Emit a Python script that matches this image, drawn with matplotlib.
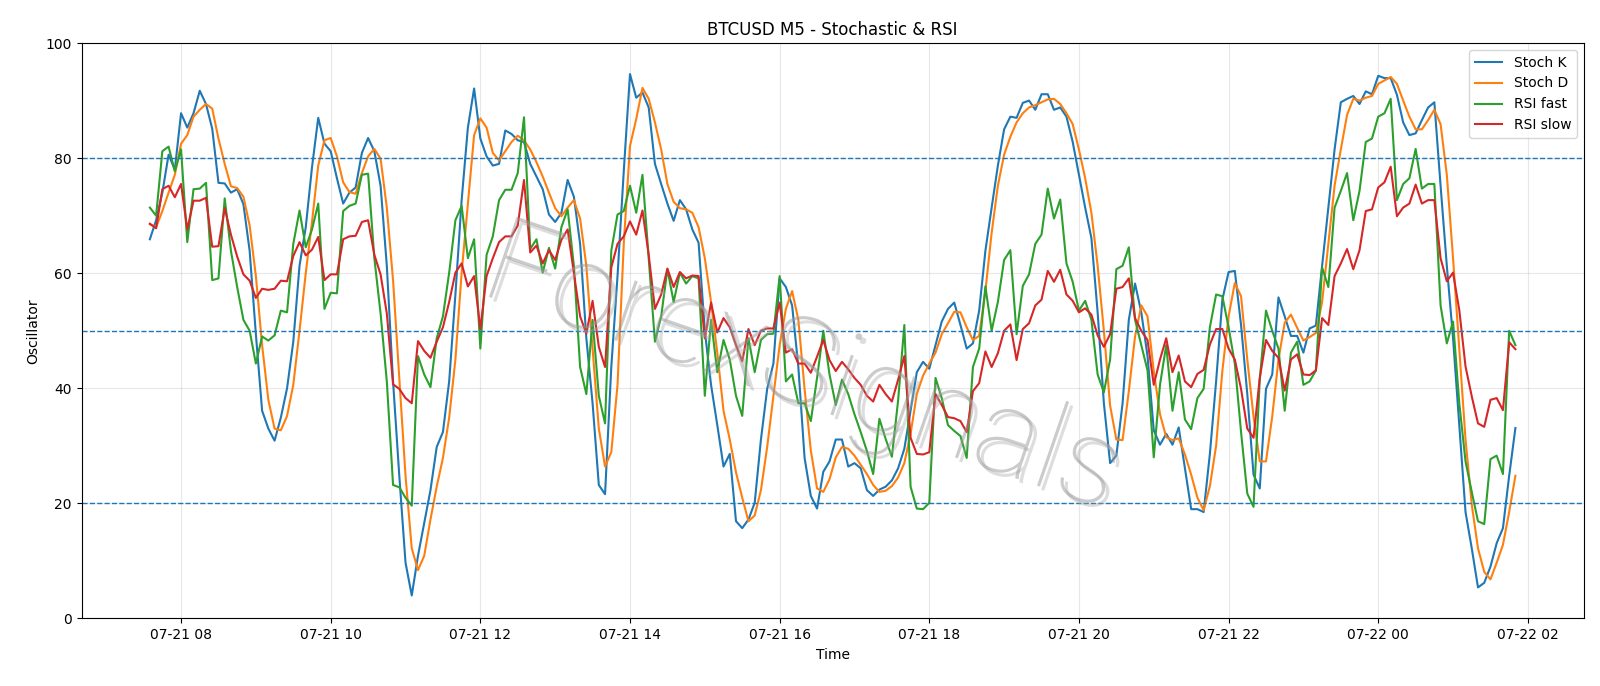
import pandas as pd
import matplotlib
matplotlib.use("Agg")
import matplotlib.pyplot as plt
import matplotlib.dates as mdates
import matplotlib.patheffects as pe

# 5-minute bars, 07-21 07:35 -> 07-22 01:50
start = "2024-07-21 07:35"
n_bars = 220

stoch_k = [
    65.9, 69.2, 74.0, 80.6, 78.0, 87.8, 85.3, 87.8, 91.7, 89.4,
    85.1, 75.7, 75.6, 74.0, 74.6, 72.0, 63.9, 49.4, 36.1, 33.0,
    30.9, 34.9, 40.0, 48.1, 61.3, 68.0, 78.4, 87.0, 82.5, 81.2,
    76.5, 72.1, 74.0, 74.9, 80.9, 83.5, 81.2, 75.2, 61.3, 41.2,
    24.8, 9.7, 4.0, 10.9, 16.6, 22.3, 29.8, 32.4, 41.2, 56.3,
    72.7, 85.3, 92.1, 83.4, 80.3, 78.7, 79.0, 84.8, 84.2, 83.1,
    82.8, 79.0, 76.8, 74.6, 70.2, 68.9, 70.5, 76.2, 73.3, 65.1,
    48.7, 37.4, 23.2, 21.6, 43.7, 59.5, 77.7, 94.6, 90.5, 91.4,
    88.8, 79.0, 75.5, 72.1, 69.1, 72.7, 71.1, 67.6, 65.3, 50.0,
    40.6, 33.6, 26.4, 28.6, 16.9, 15.7, 17.2, 20.1, 31.1, 39.9,
    44.3, 59.1, 57.6, 54.4, 43.7, 27.9, 21.3, 19.1, 25.5, 27.3,
    31.1, 31.1, 26.4, 27.0, 26.1, 22.3, 21.3, 22.4, 22.9, 24.0,
    26.1, 29.5, 36.1, 42.8, 44.6, 43.4, 47.5, 51.6, 53.8, 54.9,
    51.0, 46.9, 47.8, 53.5, 63.9, 71.4, 78.7, 85.0, 87.2, 87.0,
    89.6, 90.0, 88.4, 91.1, 91.1, 88.4, 88.8, 87.2, 82.8, 77.1,
    71.4, 66.1, 53.2, 37.4, 27.0, 28.3, 37.4, 51.9, 58.2, 53.2,
    45.6, 32.7, 30.2, 32.1, 30.2, 33.2, 26.1, 19.0, 19.0, 18.5,
    28.6, 41.2, 55.4, 60.2, 60.4, 51.0, 39.0, 25.0, 22.6, 39.9,
    42.4, 55.8, 52.5, 49.1, 49.1, 46.2, 50.4, 50.9, 61.3, 71.4,
    81.5, 89.7, 90.3, 90.8, 89.4, 91.6, 91.1, 94.3, 93.9, 93.9,
    91.0, 86.2, 84.0, 84.3, 86.6, 88.8, 89.7, 75.2, 61.3, 48.7,
    33.6, 18.5, 12.2, 5.4, 6.2, 9.0, 13.1, 15.7, 24.8, 33.1,
]

stoch_d = [
    68.5, 68.0, 70.8, 74.0, 77.1, 82.5, 84.0, 87.2, 88.4, 89.4,
    88.6, 83.4, 79.0, 75.1, 74.8, 73.3, 68.3, 59.5, 47.5, 38.0,
    33.0, 32.7, 35.2, 40.6, 50.0, 60.0, 68.9, 78.7, 83.1, 83.5,
    80.3, 75.8, 74.1, 73.8, 77.4, 80.3, 81.6, 79.9, 71.4, 58.8,
    41.8, 24.8, 12.2, 8.4, 10.9, 17.2, 22.9, 27.9, 34.9, 45.0,
    60.1, 72.1, 84.0, 86.9, 85.3, 80.9, 79.6, 81.2, 82.8, 83.9,
    83.1, 81.5, 79.3, 76.8, 74.0, 71.3, 69.9, 71.4, 72.7, 69.5,
    61.3, 46.9, 33.0, 26.4, 28.9, 40.6, 65.1, 82.1, 86.8, 92.2,
    90.3, 86.2, 81.5, 75.5, 72.4, 71.3, 71.1, 70.5, 68.0, 62.6,
    55.0, 46.2, 36.1, 31.1, 25.4, 21.0, 16.9, 17.9, 22.3, 29.8,
    38.7, 47.5, 53.8, 56.9, 51.9, 39.9, 29.2, 22.6, 22.0, 24.2,
    28.0, 29.8, 29.5, 28.3, 26.7, 25.1, 23.2, 22.0, 22.2, 23.0,
    24.5, 27.0, 32.1, 39.0, 42.2, 44.3, 46.2, 49.4, 51.3, 53.3,
    53.2, 50.6, 48.4, 49.1, 56.9, 67.0, 75.2, 80.6, 83.7, 86.2,
    87.8, 88.8, 89.2, 89.7, 90.2, 90.3, 89.4, 87.8, 85.9, 81.5,
    76.5, 70.5, 61.3, 50.0, 37.0, 31.1, 31.0, 39.5, 49.0, 54.4,
    52.5, 43.0, 35.5, 31.5, 31.0, 31.3, 28.5, 25.0, 21.0, 18.8,
    23.0, 30.0, 43.0, 52.5, 58.3, 56.0, 45.0, 35.1, 27.3, 27.3,
    35.1, 45.0, 51.4, 52.8, 50.5, 48.3, 48.9, 49.6, 55.0, 65.1,
    75.2, 81.5, 87.5, 90.3, 90.0, 90.5, 90.8, 92.9, 93.5, 94.1,
    92.9, 90.0, 87.2, 85.0, 85.0, 86.6, 88.4, 85.9, 77.1, 62.6,
    46.9, 31.1, 19.8, 12.2, 8.1, 6.8, 9.7, 12.8, 18.5, 24.8,
]

rsi_fast = [
    71.4, 70.0, 81.2, 82.0, 77.7, 81.5, 65.4, 74.6, 74.7, 75.7,
    58.8, 59.1, 73.0, 63.9, 57.6, 51.9, 50.0, 44.3, 49.0, 48.3,
    49.2, 53.5, 53.2, 65.1, 70.9, 64.5, 67.6, 72.1, 53.8, 56.6,
    56.5, 70.8, 71.7, 72.1, 77.1, 77.3, 62.6, 53.0, 41.2, 23.2,
    22.8, 21.0, 19.6, 45.6, 42.4, 40.2, 48.7, 52.5, 60.1, 69.2,
    71.7, 62.6, 65.9, 46.9, 63.2, 66.4, 72.7, 74.5, 74.5, 77.4,
    87.1, 64.2, 65.9, 60.1, 64.4, 60.8, 68.0, 71.1, 61.3, 43.7,
    39.0, 51.9, 38.7, 33.9, 63.9, 70.2, 70.8, 75.2, 70.5, 77.1,
    62.6, 48.1, 52.5, 60.7, 55.0, 60.1, 58.2, 59.5, 59.1, 38.7,
    51.9, 42.8, 48.4, 45.0, 38.7, 35.2, 48.7, 42.8, 48.4, 49.4,
    49.5, 59.5, 41.2, 42.4, 37.4, 37.4, 34.3, 41.8, 50.0, 42.4,
    37.1, 41.5, 39.0, 35.5, 32.4, 29.1, 25.1, 34.7, 31.2, 28.1,
    37.9, 51.0, 22.9, 19.1, 19.0, 20.1, 41.8, 38.3, 33.6, 32.6,
    31.7, 27.9, 43.7, 46.9, 57.7, 50.0, 55.0, 62.3, 64.0, 49.4,
    57.8, 59.8, 65.1, 66.7, 74.7, 69.5, 72.8, 61.7, 58.5, 53.5,
    55.2, 51.9, 42.4, 39.3, 45.0, 60.7, 61.3, 64.5, 51.9, 47.5,
    43.1, 28.0, 40.6, 47.5, 36.1, 42.8, 34.6, 32.9, 38.3, 39.9,
    50.6, 56.3, 56.0, 50.6, 44.3, 32.4, 21.7, 19.4, 41.5, 53.5,
    50.0, 46.9, 36.1, 46.2, 48.1, 40.6, 41.2, 43.1, 61.0, 57.6,
    71.4, 74.3, 77.4, 69.2, 74.3, 82.8, 83.4, 87.2, 87.8, 90.3,
    72.7, 75.5, 76.5, 81.6, 74.7, 75.5, 75.5, 54.4, 47.8, 51.6,
    37.4, 27.3, 22.0, 16.9, 16.4, 27.7, 28.3, 25.1, 50.0, 47.5,
]

rsi_slow = [
    68.6, 67.8, 74.6, 75.2, 73.2, 75.5, 67.6, 72.6, 72.6, 73.1,
    64.6, 64.7, 71.3, 66.7, 62.9, 59.8, 58.7, 55.7, 57.3, 57.1,
    57.3, 58.7, 58.6, 63.0, 65.4, 63.1, 64.1, 66.3, 58.8, 59.8,
    59.8, 65.9, 66.4, 66.5, 68.9, 69.2, 63.2, 59.8, 53.0, 40.7,
    39.9, 38.3, 37.4, 48.2, 46.5, 45.3, 48.1, 50.6, 55.0, 60.1,
    61.7, 57.7, 59.5, 50.3, 59.5, 62.6, 65.4, 66.4, 66.4, 68.3,
    76.2, 63.6, 64.8, 61.7, 64.0, 62.3, 65.8, 67.6, 60.1, 52.5,
    49.5, 55.2, 47.2, 43.7, 61.0, 65.1, 66.4, 69.0, 66.7, 70.9,
    63.2, 53.8, 56.3, 60.8, 57.6, 60.2, 59.1, 59.6, 59.5, 48.7,
    54.9, 49.7, 52.2, 50.6, 47.5, 44.7, 50.3, 47.5, 50.0, 50.4,
    50.4, 54.9, 46.2, 46.8, 44.3, 44.3, 42.7, 45.5, 48.4, 44.9,
    43.0, 44.6, 43.3, 41.8, 40.6, 38.7, 37.7, 40.6, 39.0, 37.7,
    41.5, 45.6, 31.4, 28.6, 28.5, 28.9, 39.0, 37.1, 35.0, 34.8,
    34.3, 32.4, 39.5, 40.9, 46.4, 43.7, 46.1, 50.0, 51.1, 44.9,
    50.3, 51.3, 54.4, 55.4, 60.4, 58.5, 60.6, 56.3, 55.2, 53.2,
    53.9, 52.8, 49.2, 47.2, 49.4, 57.3, 57.6, 59.1, 52.2, 50.0,
    48.4, 40.6, 45.0, 48.7, 42.8, 45.7, 41.2, 40.2, 42.5, 43.2,
    47.6, 50.3, 50.3, 46.9, 45.0, 39.9, 33.0, 31.4, 41.8, 48.4,
    46.5, 45.3, 39.6, 45.0, 45.9, 42.4, 42.3, 43.1, 52.2, 51.0,
    59.5, 61.7, 64.2, 60.7, 64.0, 70.8, 71.1, 74.9, 75.8, 78.5,
    69.9, 71.4, 72.1, 75.4, 72.1, 72.7, 72.7, 62.6, 58.6, 60.1,
    53.6, 43.8, 38.6, 33.9, 33.3, 38.0, 38.3, 36.2, 48.0, 46.8,
]

levels = [80, 50, 20]

times = pd.date_range(start, periods=n_bars, freq="5min")

fig = plt.figure(figsize=(16, 6.86), dpi=100)
ax = fig.add_subplot(111)
fig.subplots_adjust(left=0.051, right=0.9898, top=0.9373, bottom=0.0984)

ax.plot(times, stoch_k, label="Stoch K")
ax.plot(times, stoch_d, label="Stoch D")
ax.plot(times, rsi_fast, label="RSI fast")
ax.plot(times, rsi_slow, label="RSI slow")

for lv in levels:
    ax.axhline(lv, color="tab:blue", linestyle="--", linewidth=1)

ax.set_ylim(0, 100)
ax.xaxis.set_major_locator(mdates.HourLocator(byhour=range(0, 24, 2)))
ax.xaxis.set_major_formatter(mdates.DateFormatter("%m-%d %H"))
ax.grid(True, alpha=0.3)

ax.set_title("BTCUSD M5 - Stochastic & RSI")
ax.set_xlabel("Time")
ax.set_ylabel("Oscillator")
ax.legend(loc="upper right")

# watermark, thin grey letters with a soft shadow
ax.text(0.48, 0.43, "ForexSignals", transform=ax.transAxes,
        family=["Roboto", "DejaVu Sans"], fontweight="light",
        fontsize=86, color="#999999", alpha=0.5, rotation=-19,
        ha="center", va="center", zorder=5,
        path_effects=[pe.withSimplePatchShadow(offset=(3, -3),
                                               shadow_rgbFace="#aaaaaa",
                                               alpha=0.4)])

fig.savefig("out.png", dpi=100)
